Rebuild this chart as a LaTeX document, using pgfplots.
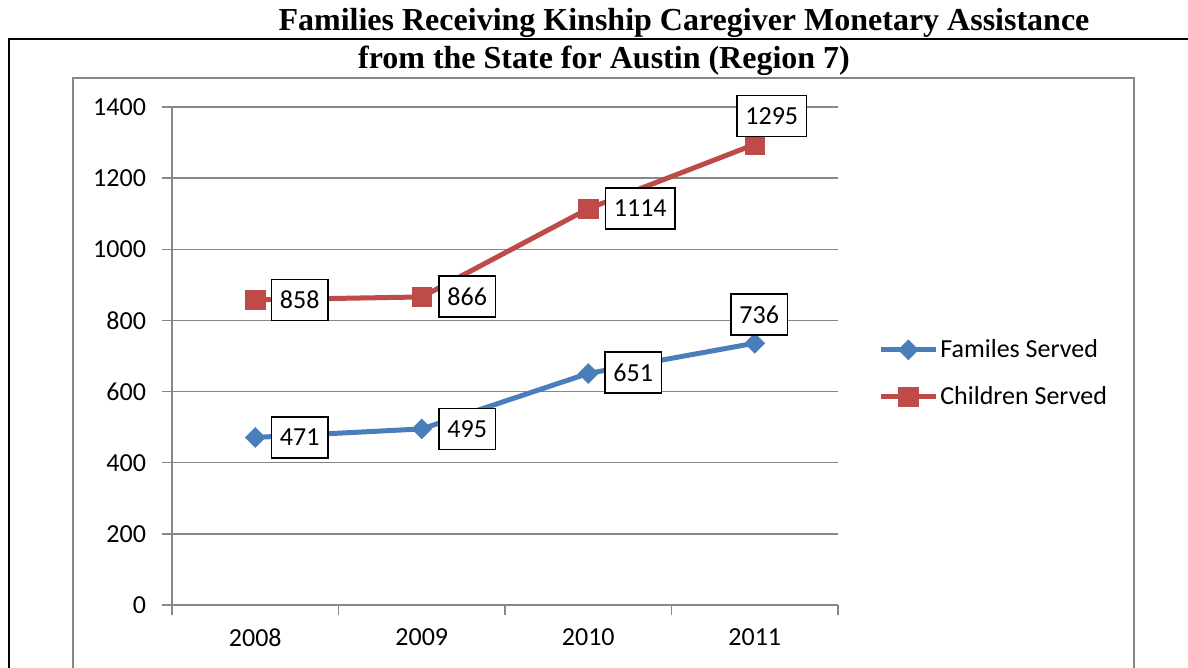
\documentclass[border=0pt]{standalone}
\usepackage{fontspec}
\setmainfont{Carlito}
\newfontfamily\titlefont{Liberation Serif}
\usepackage{pgfplots}
\usepackage{pgfplotstable}
\pgfplotsset{compat=1.18}

\definecolor{famblue}{HTML}{4A7EBB}
\definecolor{chired}{HTML}{BE4B48}
\definecolor{gridgray}{HTML}{878787}

% x = category position, dx/dy = label offset in pt
\pgfplotstableread{
x y dx dy
0.5 471 22.25 0
1.5 495 22.75 0
2.5 651 22.5 0.4
3.5 736 2.25 14.35
}\families
\pgfplotstableread{
x y dx dy
0.5 858 22.25 0
1.5 866 22.75 0.2
2.5 1114 26 0.1
3.5 1295 8.5 14.2
}\children

\begin{document}
\begin{tikzpicture}
\path[use as bounding box] (0,0) rectangle (594pt,-334pt);
\draw[black, line width=1pt] (4.5pt,-340pt) -- (4.5pt,-19.5pt) -- (600pt,-19.5pt);
\draw[gridgray, line width=0.6pt] (36.5pt,-340pt) rectangle (567pt,-39pt);
\node[font=\titlefont\bfseries\fontsize{16}{19}\selectfont] at (342pt,-11.5pt)
  {Families Receiving Kinship Caregiver Monetary Assistance};
\node[font=\titlefont\bfseries\fontsize{16}{19}\selectfont] at (302pt,-30.5pt)
  {from the State for Austin (Region 7)};
\begin{axis}[
  at={(86pt,-302.5pt)}, anchor=south west,
  scale only axis, width=333pt, height=249pt,
  xmin=0, xmax=4, ymin=0, ymax=1400,
  ytick={0,200,...,1400},
  xtick={0.5,1.5,2.5,3.5},
  xticklabels={2008,2009,2010,2011},
  minor xtick={0,1,2,3,4},
  major x tick style={draw=none},
  tick align=outside, major tick length=5pt, minor tick length=5pt,
  axis x line*=bottom, axis y line*=left,
  axis line style={gridgray, line width=0.75pt},
  tick style={gridgray, line width=0.75pt},
  ymajorgrids, grid style={gridgray, line width=0.75pt},
  tick label style={font=\fontsize{13}{15}\selectfont},
  yticklabel style={xshift=-4.5pt},
  xticklabel style={yshift=-3.5pt},
  /pgf/number format/assume math mode=true,
  /pgf/number format/1000 sep={},
  clip=false,
  legend style={at={(axis description cs:1.06,0.465)}, anchor=west,
    draw=none, fill=none, font=\fontsize{13}{15}\selectfont,
    row sep=11pt, inner sep=0pt, nodes={inner sep=1pt}},
  legend cell align=left,
  legend image code/.code={
    \draw[mark repeat=2,mark phase=2] plot coordinates {(0pt,0pt) (13.75pt,0pt) (27.5pt,0pt)};},
  nodes near coords={\pgfplotspointmeta},
  point meta=explicit symbolic,
  every node near coord/.append style={anchor=center,
    xshift=\dx pt, yshift=\dy pt, draw=black, fill=white, text=black,
    line width=0.75pt, inner xsep=4.25pt, inner ysep=0pt, minimum height=20.5pt,
    font=\fontsize{13}{15}\selectfont},
]
\addplot[famblue, line width=2.5pt, mark=square*, mark size=3.5pt,
  mark options={solid, fill=famblue, draw=famblue, line width=0.3pt, rotate=45},
  visualization depends on={\thisrow{dx} \as \dx},
  visualization depends on={\thisrow{dy} \as \dy}]
  table[x=x, y=y, meta=y] {\families};
\addlegendentry{Familes Served}
\addplot[chired, line width=2.5pt, mark=square*, mark size=4.8pt,
  mark options={solid, fill=chired, draw=chired, line width=0.3pt},
  visualization depends on={\thisrow{dx} \as \dx},
  visualization depends on={\thisrow{dy} \as \dy}]
  table[x=x, y=y, meta=y] {\children};
\addlegendentry{Children Served}
\end{axis}
\end{tikzpicture}
\end{document}
